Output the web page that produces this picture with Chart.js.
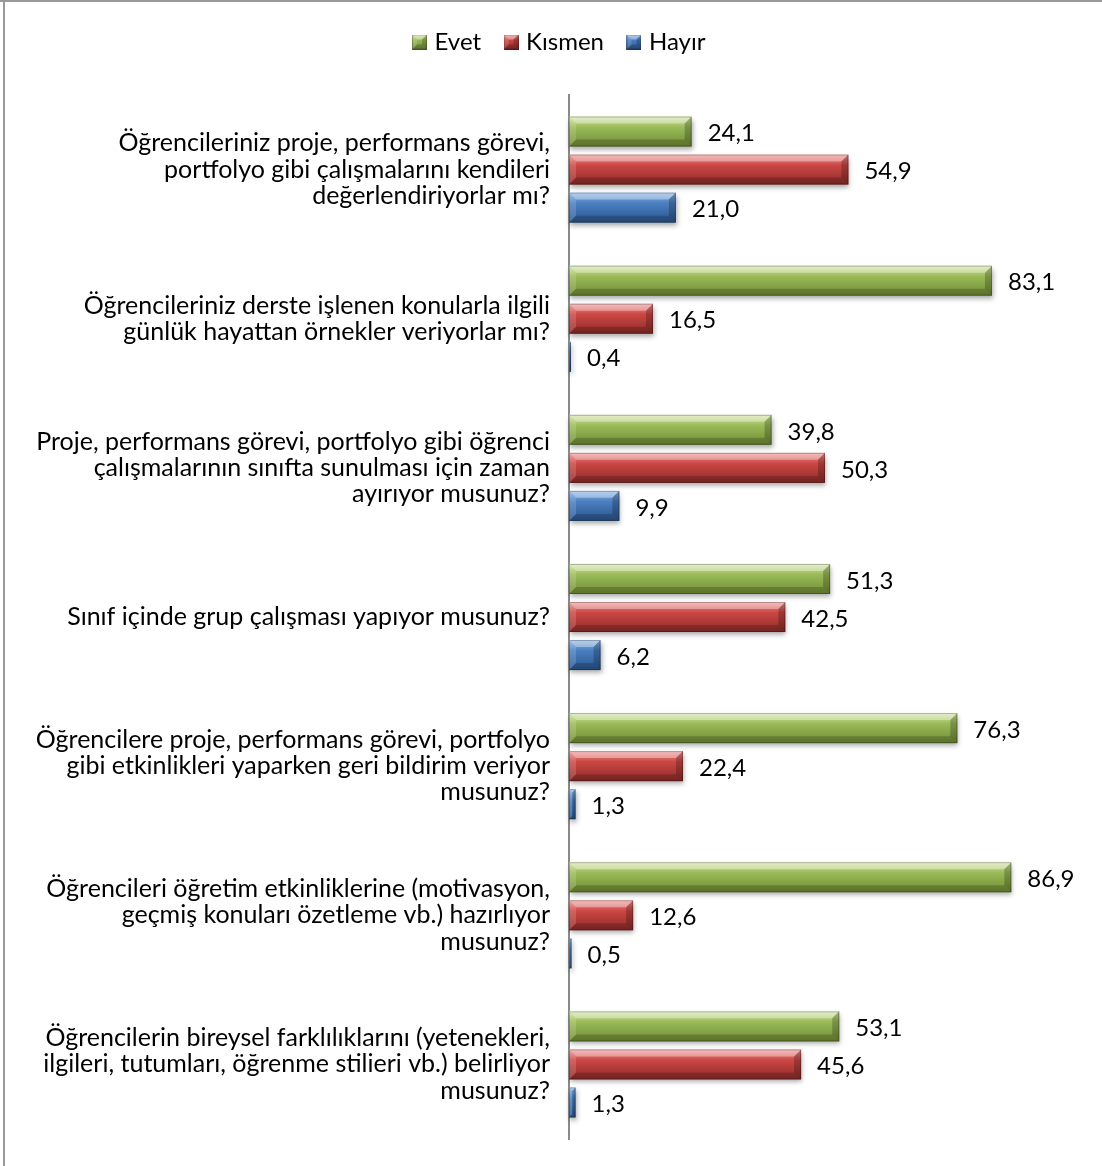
<!DOCTYPE html>
<html lang="tr">
<head>
<meta charset="utf-8">
<title>Değerlendirme etkinlikleri</title>
<script src="https://cdn.jsdelivr.net/npm/chart.js@4.4.1/dist/chart.umd.min.js"></script>
<style>
  html, body { margin: 0; padding: 0; background: #fff; }
  #wrap { position: relative; width: 1102px; height: 1166px; }
</style>
</head>
<body>
<div id="wrap"><canvas id="surveyChart" width="1102" height="1166"></canvas></div>
<script>
const questions = [
    ['Öğrencileriniz proje, performans görevi,', 'portfolyo gibi çalışmalarını kendileri', 'değerlendiriyorlar mı?'],
    ['Öğrencileriniz derste işlenen konularla ilgili', 'günlük hayattan örnekler veriyorlar mı?'],
    ['Proje, performans görevi, portfolyo gibi öğrenci', 'çalışmalarının sınıfta sunulması için zaman', 'ayırıyor musunuz?'],
    ['Sınıf içinde grup çalışması yapıyor musunuz?'],
    ['Öğrencilere proje, performans görevi, portfolyo', 'gibi etkinlikleri yaparken geri bildirim veriyor', 'musunuz?'],
    ['Öğrencileri öğretim etkinliklerine (motivasyon,', 'geçmiş konuları özetleme vb.) hazırlıyor', 'musunuz?'],
    ['Öğrencilerin bireysel farklılıklarını (yetenekleri,', 'ilgileri, tutumları, öğrenme stilieri vb.) belirliyor', 'musunuz?']
];
const evet   = [24.1, 83.1, 39.8, 51.3, 76.3, 86.9, 53.1];
const kismen = [54.9, 16.5, 50.3, 42.5, 22.4, 12.6, 45.6];
const hayir  = [21.0, 0.4, 9.9, 6.2, 1.3, 0.5, 1.3];

const FONT = 'Lato, "Open Sans", sans-serif';
const AXIS_X = 569;

// light / base / dark shades for the bevelled bars
const palette = {
    green: { light: '#d6e6a8', base: '#9bbb59', dark: '#6f8c34' },
    red:   { light: '#ee9896', base: '#cc4744', dark: '#8e2b29' },
    blue:  { light: '#8fb6e6', base: '#4a7fc0', dark: '#2a568e' }
};

function fmt(v) {
    return v.toFixed(1).replace('.', ',');
}

function drawBevelBar(ctx, x0, x1, top, bottom, shade, withShadow) {
    const w = x1 - x0;
    const h = bottom - top;
    if (w <= 0) return;
    const b = Math.min(7, w / 2, h / 3);

    ctx.save();
    if (withShadow) {
        ctx.shadowColor = 'rgba(0,0,0,0.35)';
        ctx.shadowBlur = 5;
        ctx.shadowOffsetX = 1;
        ctx.shadowOffsetY = 3;
    }
    const g = ctx.createLinearGradient(0, top, 0, bottom);
    g.addColorStop(0, shade.light);
    g.addColorStop(0.35, shade.base);
    g.addColorStop(1, shade.dark);
    ctx.fillStyle = g;
    ctx.fillRect(x0, top, w, h);
    ctx.restore();

    // top highlight
    ctx.save();
    ctx.beginPath();
    ctx.moveTo(x0, top);
    ctx.lineTo(x1, top);
    ctx.lineTo(x1 - b, top + b);
    ctx.lineTo(x0 + b, top + b);
    ctx.closePath();
    ctx.fillStyle = 'rgba(255,255,255,0.35)';
    ctx.fill();

    // bottom edge
    ctx.beginPath();
    ctx.moveTo(x0, bottom);
    ctx.lineTo(x1, bottom);
    ctx.lineTo(x1 - b, bottom - b);
    ctx.lineTo(x0 + b, bottom - b);
    ctx.closePath();
    ctx.fillStyle = 'rgba(0,0,0,0.18)';
    ctx.fill();

    // slanted right end
    ctx.beginPath();
    ctx.moveTo(x1, top);
    ctx.lineTo(x1, bottom);
    ctx.lineTo(x1 - b, bottom - b);
    ctx.lineTo(x1 - b, top + b);
    ctx.closePath();
    ctx.fillStyle = 'rgba(0,0,0,0.22)';
    ctx.fill();

    // left end
    ctx.beginPath();
    ctx.moveTo(x0, top);
    ctx.lineTo(x0, bottom);
    ctx.lineTo(x0 + b, bottom - b);
    ctx.lineTo(x0 + b, top + b);
    ctx.closePath();
    ctx.fillStyle = 'rgba(255,255,255,0.15)';
    ctx.fill();

    ctx.strokeStyle = 'rgba(0,0,0,0.25)';
    ctx.lineWidth = 1;
    ctx.strokeRect(x0 + 0.5, top + 0.5, w - 1, h - 1);
    ctx.restore();
}

// small bevelled squares used as legend markers
function legendMarker(shade) {
    const c = document.createElement('canvas');
    c.width = 15;
    c.height = 15;
    drawBevelBar(c.getContext('2d'), 0, 15, 0, 15, shade, false);
    return c;
}

const frame = {
    id: 'frame',
    beforeDraw(chart) {
        const ctx = chart.ctx;
        ctx.save();
        ctx.strokeStyle = '#9a9a9a';
        ctx.lineWidth = 2;
        ctx.beginPath();
        ctx.moveTo(0, 1);
        ctx.lineTo(chart.width, 1);
        ctx.moveTo(4, 0);
        ctx.lineTo(4, chart.height);
        ctx.stroke();
        ctx.restore();
    }
};

const bevelBars = {
    id: 'bevelBars',
    beforeDatasetsDraw(chart) {
        const ctx = chart.ctx;
        chart.data.datasets.forEach((ds, i) => {
            const meta = chart.getDatasetMeta(i);
            meta.data.forEach(bar => {
                const top = bar.y - bar.height / 2;
                const bottom = bar.y + bar.height / 2;
                drawBevelBar(ctx, bar.base, bar.x, top, bottom, ds.shade, true);
            });
        });
        return false;
    },
    afterDraw(chart) {
        const ctx = chart.ctx;
        ctx.save();
        ctx.font = '24px ' + FONT;
        ctx.fillStyle = '#000';
        ctx.textAlign = 'left';
        ctx.textBaseline = 'middle';
        chart.data.datasets.forEach((ds, i) => {
            const meta = chart.getDatasetMeta(i);
            meta.data.forEach((bar, j) => {
                ctx.fillText(fmt(ds.data[j]), bar.x + 16, bar.y + 2);
            });
        });
        ctx.restore();
    }
};

// extra room under the legend, and legend centred over the whole frame
const legendSpace = {
    id: 'legendSpace',
    beforeInit(chart) {
        const fit = chart.legend.fit;
        chart.legend.fit = function() {
            fit.bind(chart.legend)();
            this.height += 31;
        };
    },
    afterLayout(chart) {
        chart.legend.left += 22;
        chart.legend.right += 22;
    }
};

const datasets = [
    { label: 'Evet', data: evet, shade: palette.green },
    { label: 'Kısmen', data: kismen, shade: palette.red },
    { label: 'Hayır', data: hayir, shade: palette.blue }
].map(ds => Object.assign(ds, {
    backgroundColor: ds.shade.base,
    pointStyle: legendMarker(ds.shade),
    barPercentage: 0.79,
    categoryPercentage: 0.765
}));

new Chart(document.getElementById('surveyChart'), {
    type: 'bar',
    data: { labels: questions, datasets },
    options: {
        indexAxis: 'y',
        responsive: false,
        animation: false,
        devicePixelRatio: 1,
        layout: { padding: { left: 0, right: 24, top: 3, bottom: 27 } },
        scales: {
            x: {
                display: false,
                min: 0,
                max: 100
            },
            y: {
                grid: { display: false, drawTicks: false },
                border: { display: true, color: '#8a8a8a', width: 2 },
                ticks: {
                    color: '#000',
                    padding: 19,
                    font: { family: FONT, size: 25, lineHeight: 1.05 }
                },
                afterFit(scale) {
                    scale.width = AXIS_X;
                    // multi-line labels must not push the plot area inwards
                    scale.paddingTop = 0;
                    scale.paddingBottom = 0;
                }
            }
        },
        plugins: {
            legend: {
                position: 'top',
                labels: {
                    usePointStyle: true,
                    pointStyleWidth: 6,
                    boxWidth: 15,
                    boxHeight: 15,
                    padding: 27,
                    color: '#000',
                    font: { family: FONT, size: 24 }
                }
            },
            tooltip: { enabled: false }
        }
    },
    plugins: [frame, bevelBars, legendSpace]
});
</script>
</body>
</html>
